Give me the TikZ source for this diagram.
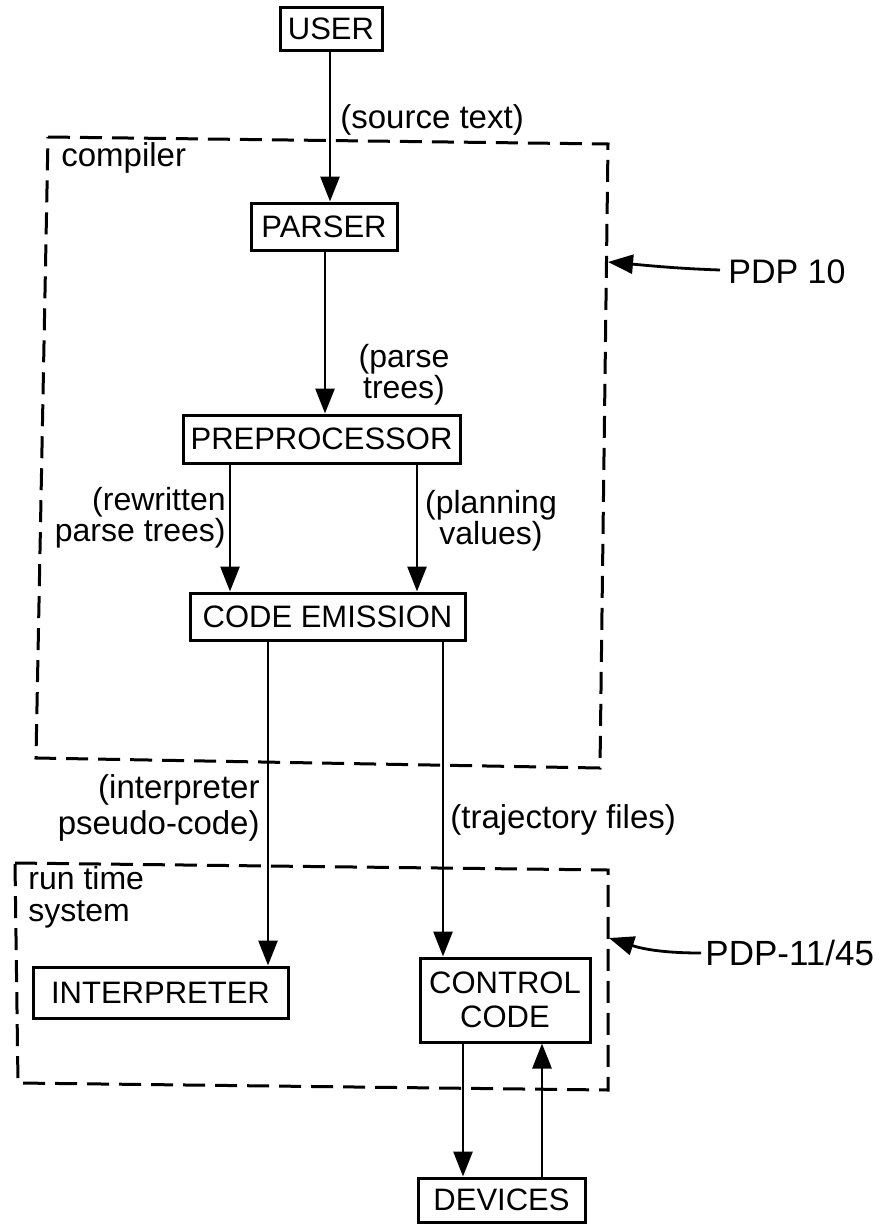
\documentclass[tikz,border=0pt]{standalone}
\usepackage{fontspec}
\setmainfont{Liberation Sans}
\usetikzlibrary{arrows.meta}
\tikzset{
  box/.style={draw, line width=1.5pt, inner sep=0pt, font=\fontsize{15.5}{16.5}\selectfont, align=center},
  lbl/.style={inner sep=0pt, font=\fontsize{16}{15.5}\selectfont},
  arr/.style={line width=1.4pt, -{Triangle[length=12.5pt,width=9.5pt]}},
  frame/.style={line width=1.5pt, dash pattern=on 11pt off 5pt},
}
\begin{document}
\begin{tikzpicture}[x=0.5pt,y=-0.5pt]
\useasboundingbox (0,0) rectangle (890,1226);
% columns
\coordinate (c1) at (330,0);
\coordinate (c2) at (325,0);
\coordinate (c3) at (230,0);
\coordinate (c4) at (417,0);
\coordinate (c5) at (268,0);
\coordinate (c6) at (443,0);
\coordinate (c7) at (463,0);
\coordinate (c8) at (542,0);
% frames
\draw[frame] (48,137) -- (608,144) -- (600,768) -- (36,758) -- cycle;
\draw[frame] (15,863) -- (608,870) -- (608,1090) -- (18,1083) -- cycle;
\coordinate (e1) at (608,262);
\coordinate (e2) at (609,938);
% boxes
\node[box, minimum width=51pt, minimum height=21.5pt] (user) at (331,28.5) {USER};
\node[box, minimum width=73pt, minimum height=23.5pt] (parser) at (324,226.5) {PARSER};
\node[box, minimum width=138.5pt, minimum height=24pt] (pre) at (321.5,439) {PREPROCESSOR};
\node[box, minimum width=137.5pt, minimum height=23.5pt] (emit) at (327.5,616.5) {CODE EMISSION};
\node[box, minimum width=127.5pt, minimum height=25.5pt] (interp) at (160.5,992.5) {INTERPRETER};
\node[box, minimum width=85pt, minimum height=42pt] (ctrl) at (505,1000) {CONTROL\\[0.5pt]CODE};
\node[box, minimum width=83.5pt, minimum height=22pt] (dev) at (501.5,1200) {DEVICES};
% labels
\node[lbl, anchor=west, font=\fontsize{16.5}{16}\selectfont] (srctext) at (340,120) {(source text)};
\node[lbl, align=center] (ptrees) at (404,375) {(parse\\trees)};
\node[lbl, align=right, anchor=east] (rtrees) at (226,518) {(rewritten\\parse trees)};
\node[lbl, align=center] (pvals) at (491,521) {(planning\\values)};
\node[lbl, align=right, anchor=east, font=\fontsize{16.5}{18}\selectfont] (pcode) at (260,808) {(interpreter\\pseudo-code)};
\node[lbl, anchor=west, font=\fontsize{16.5}{16}\selectfont] (tfiles) at (450,820) {(trajectory files)};
\node[lbl, anchor=west, font=\fontsize{16.5}{16}\selectfont] (comp) at (61,158) {compiler};
\node[lbl, align=left, anchor=west, font=\fontsize{16}{16}\selectfont] (rts) at (28,897) {run time\\system};
\node[lbl, anchor=west, font=\fontsize{17}{17}\selectfont] (pdp10) at (728,272) {PDP 10};
\node[lbl, anchor=west, font=\fontsize{17.5}{17}\selectfont] (pdp11) at (705,953) {PDP-11/45};
% connectors
\draw[arr] (user.south -| c1) -- (parser.north -| c1);
\draw[arr] (parser.south -| c2) -- (pre.north -| c2);
\draw[arr] (pre.south -| c3) -- (emit.north -| c3);
\draw[arr] (pre.south -| c4) -- (emit.north -| c4);
\draw[arr] (emit.south -| c5) -- (interp.north -| c5);
\draw[arr] (emit.south -| c6) -- (ctrl.north -| c6);
\draw[arr] (ctrl.south -| c7) -- (dev.north -| c7);
\draw[arr] (dev.north -| c8) -- (ctrl.south -| c8);
\draw[arr] (pdp10.west) ++(-8,-2) to[out=178,in=-5] (e1);
\draw[arr] (pdp11.west) ++(-4,0) to[out=180,in=-18] (e2);
\end{tikzpicture}
\end{document}
